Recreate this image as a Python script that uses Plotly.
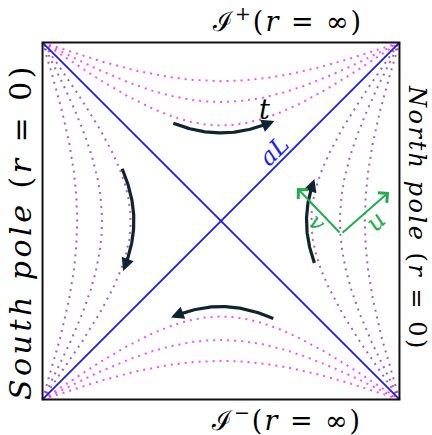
import numpy as np
import plotly.graph_objects as go

# ---- data (r/L values of the constant-radius curves) ----
static_r = [0.3, 0.5, 0.7]        # inside the static patches (timelike curves)
beyond_r = [1.5, 2.0, 3.0]        # beyond the horizon (spacelike curves)
arrow_static_r = [0.72, 0.73]     # left / right time-flow arrows
arrow_beyond_r = [1.4, 1.37]      # top / bottom time-flow arrows

HALF = np.pi / 2
PAD = 0.04
W, H = 432, 435
ML, MR, MT, MB = 38, 28, 38, 31
PW, PH = W - ML - MR, H - MT - MB
SX = PW / (np.pi + 2 * PAD)
SY = PH / (np.pi + 2 * PAD)
CX = ML + PW / 2
CY = MT + PH / 2


def px(xp, yp):
    return (xp - ML) / PW, (H - MB - yp) / PH


def pdata(xp, yp):
    return (xp - CX) / SX, (CY - yp) / SY


MAG = "rgba(255,40,255,0.85)"
PUR = "rgba(140,40,160,0.75)"
DARK = "#0f2430"
GREEN = "#1fad4f"
FONT = "DejaVu Serif"

fig = go.Figure()

# static-patch curves: cos x = c cos T
T = np.linspace(-HALF, HALF, 600)
for c in static_r:
    xs = np.arccos(c * np.cos(T))
    for s in (-1, 1):
        fig.add_trace(go.Scatter(x=s * xs, y=T, mode="lines",
                                 line=dict(color=PUR, width=2, dash="2px,5px"),
                                 hoverinfo="skip", showlegend=False))

# beyond-horizon curves: cos T = cos x / c
X = np.linspace(-HALF, HALF, 600)
for c in beyond_r:
    ts = np.arccos(np.cos(X) / c)
    for s in (-1, 1):
        fig.add_trace(go.Scatter(x=X, y=s * ts, mode="lines",
                                 line=dict(color=MAG, width=2, dash="2px,5px"),
                                 hoverinfo="skip", showlegend=False))

# horizons
for s in (-1, 1):
    fig.add_trace(go.Scatter(x=[-HALF, HALF], y=[-s * HALF, s * HALF], mode="lines",
                             line=dict(color="#1a1aff", width=1.8),
                             hoverinfo="skip", showlegend=False))

annotations = []


def curved_arrow(xs, ys):
    k = 6
    fig.add_trace(go.Scatter(x=xs[:-k + 1], y=ys[:-k + 1], mode="lines",
                             line=dict(color=DARK, width=3.2),
                             hoverinfo="skip", showlegend=False))
    annotations.append(dict(x=xs[-1], y=ys[-1], ax=xs[-k], ay=ys[-k],
                            xref="x", yref="y", axref="x", ayref="y",
                            showarrow=True, arrowhead=2, arrowsize=0.8,
                            arrowwidth=3.2, arrowcolor=DARK, text=""))


# left arrow (downwards)
tl = np.linspace(0.46, -0.44, 80)
curved_arrow(-np.arccos(arrow_static_r[0] * np.cos(tl)), tl)
# right arrow (upwards)
tr = np.linspace(-0.37, 0.37, 80)
curved_arrow(np.arccos(arrow_static_r[1] * np.cos(tr)), tr)
# top arrow (rightwards)
xt = np.linspace(-0.42, 0.47, 80)
curved_arrow(xt, np.arccos(np.cos(xt) / arrow_beyond_r[0]))
# bottom arrow (leftwards)
xb = np.linspace(0.46, -0.44, 80)
curved_arrow(xb, -np.arccos(np.cos(xb) / arrow_beyond_r[1]))

# box
fig.add_shape(type="rect", x0=-HALF, x1=HALF, y0=-HALF, y1=HALF,
              xref="x", yref="y", line=dict(color="#111", width=2))

# green null directions u, v
gv = pdata(341, 234)
gu = pdata(389, 192)
gw = pdata(297, 188)
for tip in (gu, gw):
    annotations.append(dict(x=tip[0], y=tip[1], ax=gv[0], ay=gv[1],
                            xref="x", yref="y", axref="x", ayref="y",
                            showarrow=True, arrowhead=4, arrowsize=1.3,
                            arrowwidth=2, arrowcolor=GREEN, text=""))


def label(text, xp, yp, size, color="black", angle=0, spacing=0):
    x, y = px(xp, yp)
    if spacing:
        text = f'<span style="letter-spacing:{spacing}px">{text}</span>'
    annotations.append(dict(x=x, y=y, xref="paper", yref="paper", text=text,
                            showarrow=False, textangle=angle,
                            font=dict(family=FONT, size=size, color=color),
                            xanchor="center", yanchor="middle"))


label("ℐ<sup>+</sup>(<i>r</i> = ∞)", 287, 19, 27, spacing=2)
label("ℐ<sup>−</sup>(<i>r</i> = ∞)", 286, 418, 27, spacing=2)
label("<i>South pole</i> (<i>r</i> = 0)", 21, 232, 30, angle=-90, spacing=3.5)
label("<i>North pole</i> (<i>r</i> = 0)", 417, 218, 24, angle=90, spacing=2.5)
label("<i>t</i>", 264, 109, 27)
label("<i>aL</i>", 274, 151, 24, color="#1a1aff", angle=-45)
label("<i>u</i>", 375, 221, 25, color=GREEN, angle=-45)
label("<i>v</i>", 317, 222, 23, color=GREEN, angle=45)

fig.update_layout(
    width=W, height=H, margin=dict(l=ML, r=MR, t=MT, b=MB),
    paper_bgcolor="white", plot_bgcolor="white",
    xaxis=dict(range=[-HALF - PAD, HALF + PAD], visible=False, fixedrange=True),
    yaxis=dict(range=[-HALF - PAD, HALF + PAD], visible=False, fixedrange=True),
    annotations=annotations, showlegend=False,
)
fig.write_html("out.html", config={"displayModeBar": False},
               post_script="document.body.style.margin='0';document.body.style.overflow='hidden';")
